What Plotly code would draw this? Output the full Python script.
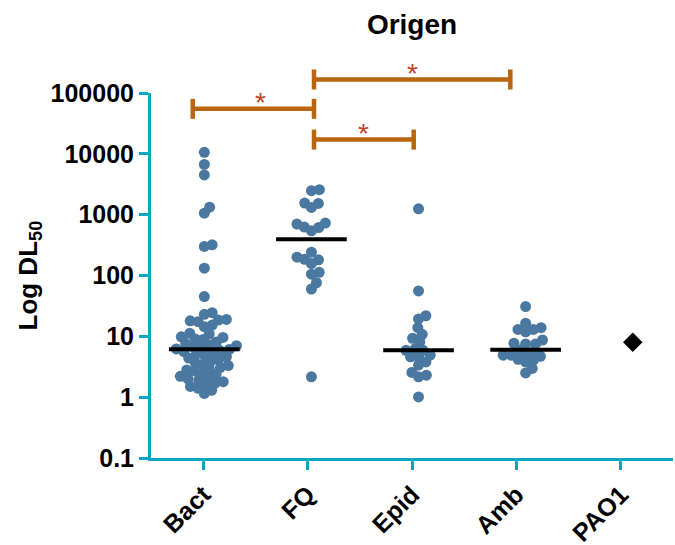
import numpy as np
import plotly.graph_objects as go

# ---------------- data ----------------
CATEGORIES = ["Bact", "FQ", "Epid", "Amb", "PAO1"]

BACT = [10600, 6700, 4500, 1330, 1060, 320, 300, 132, 45,
        24.5, 23, 19, 18.5, 18, 17.4, 15.3, 14.4, 11.2, 10.9,
        9.8, 9.6, 9.0, 8.9, 8.1, 7.6, 7.2, 7.0, 6.7, 6.5,
        6.2, 6.1, 5.9, 5.6, 5.4, 5.1, 4.9, 4.6, 4.4, 4.2, 3.9, 3.7, 3.5,
        3.3, 3.1, 2.9, 2.8, 2.7, 2.5, 2.4, 2.2, 2.1, 2.0, 1.9,
        1.8, 1.7, 1.6, 1.5, 1.4, 1.3, 1.15]
FQ = [2570, 2480, 1550, 1530, 1315, 728, 700, 625, 615, 543,
      242, 200, 185, 181, 157, 113, 105, 76, 60, 2.16]
EPID = [1250, 55.7, 21.8, 19.3, 13.9, 10.8, 9.3, 8.1, 6.3, 5.9,
        5.9, 4.9, 4.6, 4.6, 3.8, 3.37, 2.55, 2.3, 2.16, 1.01]
AMB = [30.8, 16.4, 13.9, 13.0, 13.0, 11.9, 8.7, 7.7, 7.5, 7.5,
       6.0, 5.6, 5.25, 4.9, 4.9, 4.7, 4.2, 4.07, 3.8, 2.97, 2.5]
PAO1 = [8.0]

SERIES = [BACT, FQ, EPID, AMB]

Y_TICKS = [0.1, 1, 10, 100, 1000, 10000, 100000]
Y_TICK_LABELS = ["0.1", "1", "10", "100", "1000", "10000", "100000"]

TITLE = "Origen"
Y_TITLE = "Log DL<sub>50</sub>"
SIG_LABEL = "*"

# ---------------- style / layout ----------------
W, H = 675, 545
M_L, M_R, M_T, M_B = 151, 2, 93, 87
X_RANGE = [-0.498, 4.376]
Y_RANGE = [-1, 5]
TEAL = "#0ba6c2"
DOT = "#4a78a0"
ORANGE = "#b9640f"
STAR = "#c0452c"
FONT = "Liberation Sans, Arial, sans-serif"
TICK_START, TICK_STEP = -0.01, 0.975
MEDIAN_HALF = 0.33
DOT_SIZE = 11
SWARM_DIST = 8.0

plot_w = W - M_L - M_R
plot_h = H - M_T - M_B
px_per_x = plot_w / (X_RANGE[1] - X_RANGE[0])
px_per_dec = plot_h / (Y_RANGE[1] - Y_RANGE[0])


def swarm_offsets(values):
    ys = np.log10(np.asarray(values, float)) * px_per_dec
    order = np.argsort(ys)
    placed = []
    offs = np.zeros(len(ys))
    for idx in order:
        y = ys[idx]
        cands = [0.0]
        for (qx, qy) in placed:
            dy = y - qy
            if abs(dy) < SWARM_DIST:
                dx = np.sqrt(SWARM_DIST ** 2 - dy ** 2)
                cands += [qx + dx, qx - dx]
        cands.sort(key=lambda c: (round(abs(c), 6), -c))
        for c in cands:
            if all((c - qx) ** 2 + (y - qy) ** 2 >= SWARM_DIST ** 2 - 1e-6
                   for qx, qy in placed):
                offs[idx] = c
                placed.append((c, y))
                break
    return offs / px_per_x


fig = go.Figure()

for i, vals in enumerate(SERIES):
    xs = i + swarm_offsets(vals)
    fig.add_trace(go.Scatter(
        x=xs, y=vals, mode="markers",
        marker=dict(size=DOT_SIZE, color=DOT, line=dict(width=0)),
        showlegend=False, hoverinfo="y", cliponaxis=False))
    med = float(np.median(vals))
    fig.add_trace(go.Scatter(
        x=[i - MEDIAN_HALF, i + MEDIAN_HALF], y=[med, med], mode="lines",
        line=dict(color="black", width=4), showlegend=False, hoverinfo="skip"))

fig.add_trace(go.Scatter(
    x=[len(SERIES)] * len(PAO1), y=PAO1, mode="markers",
    marker=dict(symbol="diamond", size=15, color="black"),
    showlegend=False, cliponaxis=False))


def px(c):
    return (c - X_RANGE[0]) / (X_RANGE[1] - X_RANGE[0])


def py(logv):
    return (logv - Y_RANGE[0]) / (Y_RANGE[1] - Y_RANGE[0])


# significance brackets: (x start, x end, log10 height)
BRACKETS = [(-0.108, 1.024, 4.74), (1.024, 2.857, 5.222), (1.024, 1.955, 4.234)]
CAP = 10 / plot_h
shapes = []
annotations = []
for x0, x1, lv in BRACKETS:
    yy = py(lv)
    line = dict(color=ORANGE, width=4.5)
    shapes.append(dict(type="line", xref="paper", yref="paper",
                       x0=px(x0), x1=px(x1), y0=yy, y1=yy, line=line))
    for xe in (x0, x1):
        shapes.append(dict(type="line", xref="paper", yref="paper",
                           x0=px(xe), x1=px(xe), y0=yy - CAP, y1=yy + CAP,
                           line=line))
    annotations.append(dict(xref="paper", yref="paper", x=px((x0 + x1) / 2),
                            y=yy, text=SIG_LABEL, showarrow=False,
                            yanchor="middle", yshift=6,
                            font=dict(family=FONT, size=28, color=STAR)))

annotations.append(dict(xref="paper", yref="paper", x=(29 - M_L) / plot_w,
                        y=0.5, text=Y_TITLE, textangle=-90, showarrow=False,
                        xanchor="center", yanchor="middle",
                        font=dict(family=FONT, size=26, color="black",
                                  weight="bold")))

fig.update_layout(
    width=W, height=H,
    margin=dict(l=M_L, r=M_R, t=M_T, b=M_B, autoexpand=False),
    paper_bgcolor="white", plot_bgcolor="white",
    title=dict(text=TITLE, x=0.5, xref="paper", xanchor="center",
               y=1 - 24 / H, yref="container", yanchor="middle",
               font=dict(family=FONT, size=28, color="black", weight="bold")),
    shapes=shapes, annotations=annotations,
)

fig.update_xaxes(
    range=X_RANGE, automargin=False,
    tickvals=[TICK_START + TICK_STEP * i for i in range(len(CATEGORIES))],
    ticktext=CATEGORIES, tickangle=-45,
    showline=True, linecolor=TEAL, linewidth=3,
    ticks="outside", ticklen=9, tickwidth=3, tickcolor=TEAL,
    showgrid=False, zeroline=False,
    tickfont=dict(family=FONT, size=25, color="black", weight="bold"))

fig.update_yaxes(
    type="log", range=Y_RANGE, automargin=False,
    tickvals=Y_TICKS, ticktext=Y_TICK_LABELS,
    showline=True, linecolor=TEAL, linewidth=3,
    ticks="outside", ticklen=9, tickwidth=3, tickcolor=TEAL,
    showgrid=False, zeroline=False,
    tickfont=dict(family=FONT, size=25, color="black", weight="bold"))

fig.write_html("out.html",
               config={"displayModeBar": False},
               post_script="document.body.style.margin='0';"
                           "document.body.style.overflow='hidden';")
